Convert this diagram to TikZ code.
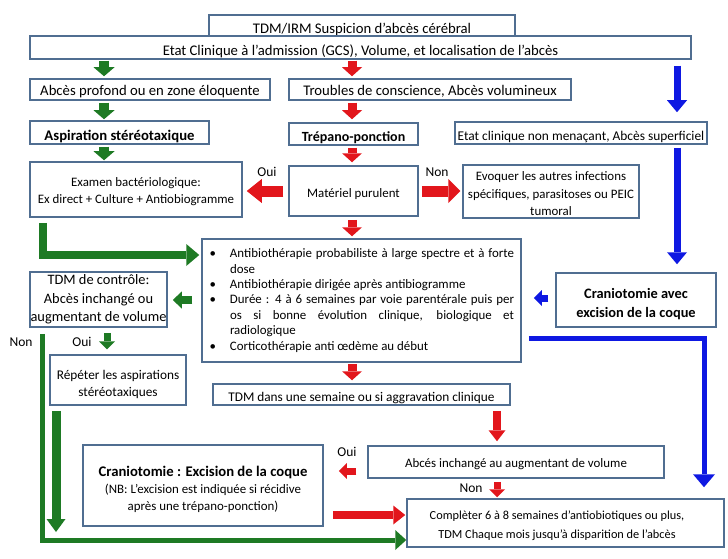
\documentclass[tikz,border=0pt]{standalone}
\usepackage{fontspec}
\setmainfont{Carlito}
\usetikzlibrary{arrows.meta}
\definecolor{bord}{RGB}{80,110,145}
\definecolor{gr}{RGB}{30,122,36}
\definecolor{rd}{RGB}{226,22,28}
\definecolor{bl}{RGB}{14,24,226}
\newcommand\fsA{\fontsize{14.7}{17.5}\selectfont}
\newcommand\fsB{\fontsize{12.9}{17.3}\selectfont}
\newcommand\fsC{\fontsize{13.4}{16}\selectfont}
\newcommand\fsD{\fontsize{14.4}{18.5}\selectfont}
\newcommand\fsE{\fontsize{13.3}{17}\selectfont}
\newcommand\fsF{\fontsize{12.3}{19}\selectfont}
\newcommand\fsG{\fontsize{12.9}{15.4}\selectfont}
\newcommand\bitem{\par\leavevmode\llap{\textbullet\hspace{14pt}}}
\newcommand\strt[1]{\rule{0pt}{#1}}
\begin{document}
\begin{tikzpicture}[x=1pt,y=-1pt,
  box/.style={draw=bord, line width=1.5pt, fill=white, inner sep=0pt, align=center, font=\fsA},
  low/.style={text height=#1, text depth=0pt},
  lbl/.style={font=\fontsize{13.5}{15}\selectfont, inner sep=0pt},
  arr/.style n args={4}{draw=#1, line width=#2, -{Triangle[width=#3,length=#4,line width=0pt]}}
]
\useasboundingbox (0,0) rectangle (728,559);

% boxes
\node[box, low=15.3pt, minimum width=306, minimum height=21] (top) at (362,25.5) {TDM/IRM Suspicion d’abcès cérébral};
\node[box, low=15.3pt, minimum width=661, minimum height=23] (etat) at (360.5,47.5) {Etat Clinique à l’admission (GCS), Volume, et localisation de l’abcès};
\node[box, low=11.3pt, minimum width=240, minimum height=21] (a1) at (150,89.5) {Abcès profond ou en zone éloquente};
\node[box, low=11.3pt, minimum width=282, minimum height=21] (r1) at (430,89.5) {Troubles de conscience, Abcès volumineux};
\node[box, low=15.3pt, minimum width=179, minimum height=23, font=\bfseries\fsA] (a2) at (119.5,132.5) {Aspiration stéréotaxique};
\node[box, low=15.5pt, minimum width=129, minimum height=22, font=\bfseries\fontsize{14}{16}\selectfont] (r2) at (353.5,134) {Trépano-ponction};
\node[box, low=14.7pt, minimum width=252, minimum height=22, font=\fsC] (bl1) at (581,133) {Etat clinique non menaçant, Abcès superficiel};
\node[box, minimum width=212, minimum height=55, font=\fsB] (a3) at (136,189.5) {\strt{13.3pt}Examen bactériologique:\\Ex direct + Culture + Antiobiogramme};
\node[box, low=12.4pt, minimum width=129, minimum height=50, font=\fsB] (r3) at (353.5,191) {Matériel purulent};
\node[box, minimum width=176, minimum height=53, font=\fsB] (ev) at (551,191.5) {\strt{13.3pt}Evoquer les autres infections\\spécifiques, parasitoses ou PEIC\\tumoral};
\node[box, minimum width=319, minimum height=123] (bul) at (361.5,300.5) {\parbox{319pt}{\fsG\leftskip=28pt\rightskip=7pt\parindent=0pt\hbadness=10000\tolerance=10000\hyphenpenalty=10000
\bitem Antibiothérapie probabiliste à large spectre et à forte\linebreak dose
\bitem Antibiothérapie dirigée après antibiogramme
\bitem Durée : 4 à 6 semaines par voie parentérale puis per\linebreak os si bonne évolution clinique, biologique et\linebreak radiologique
\bitem Corticothérapie anti œdème au début\par}};
\node[box, minimum width=137, minimum height=55, font=\fsD] (tc) at (98.5,299.5) {TDM de contrôle:\\Abcès inchangé ou\\augmentant de volume};
\node[box, minimum width=160, minimum height=54, font=\bfseries\fsD] (cr) at (636,300) {\strt{18pt}Craniotomie avec\\excision de la coque};
\node[box, minimum width=136, minimum height=50, font=\fsE] (rp) at (118,380) {\strt{17.5pt}Répéter les aspirations\\stéréotaxiques};
\node[box, low=14.6pt, minimum width=297, minimum height=21, font=\fsE] (tw) at (361.5,394.5) {TDM dans une semaine ou si aggravation clinique};
\node[box, low=10.4pt, minimum width=296, minimum height=32, font=\fsB] (ai) at (516,462) {Abcés inchangé au augmentant de volume};
\node[box, minimum width=240, minimum height=81, font=\fsB] (ce) at (203,485.5) {\strt{18.3pt}{\bfseries\fsA Craniotomie : Excision de la coque}\\(NB: L’excision est indiquée si récidive\\après une trépano-ponction)};
\node[box, minimum width=317, minimum height=48, font=\fsF] (cp) at (565.5,523) {\strt{15pt}Complèter 6 à 8 semaines d’antiobiotiques ou plus,\makebox[17pt]{}\\TDM Chaque mois jusqu’à disparition de l’abcès\makebox[17pt]{}};

% labels
\node[lbl] (oui1) at (267,172) {Oui};
\node[lbl] (non1) at (437,172) {Non};
\node[lbl] (non2) at (21,342) {Non};
\node[lbl] (oui2) at (82,342) {Oui};
\node[lbl] (oui3) at (347,452) {Oui};
\node[lbl] (non3) at (471,488) {Non};

% helper coordinates
\coordinate (gx) at (104,0);
\coordinate (rx) at (352,0);
\coordinate (bx) at (677,0);
\coordinate (gl) at (43,0);
\coordinate (gly) at (0,255);
\coordinate (gx2) at (107,0);
\coordinate (gll) at (42,0);
\coordinate (glly) at (0,540);
\coordinate (gx3) at (56,0);
\coordinate (gjoin) at (56,532);
\coordinate (rx2) at (497,0);
\coordinate (roy) at (0,471);
\coordinate (rby) at (0,515);
\coordinate (bly) at (0,338);
\coordinate (blx) at (704,0);
\coordinate (gsy) at (0,300);
\coordinate (bsy) at (0,298);

% green arrows
\draw[arr={gr}{10pt}{21pt}{9pt}, shorten <=1pt, shorten >=2pt] (etat.south -| gx) -- (a1.north -| gx);
\draw[arr={gr}{10pt}{21pt}{9pt}, shorten <=2pt, shorten >=1pt] (a1.south -| gx) -- (a2.north -| gx);
\draw[arr={gr}{10pt}{21pt}{9pt}, shorten <=2pt, shorten >=1pt] (a2.south -| gx) -- (a3.north -| gx);
\draw[arr={gr}{8pt}{22pt}{13pt}] ([yshift=-5pt]a3.south -| gl) |- ([xshift=-2pt]bul.west |- gly);
\draw[arr={gr}{8pt}{17pt}{9pt}, shorten <=9pt, shorten >=5pt] (bul.west |- gsy) -- (tc.east |- gsy);
\draw[arr={gr}{7pt}{16pt}{8pt}, shorten <=5pt, shorten >=5pt] (tc.south -| gx2) -- (rp.north -| gx2);
\draw[arr={gr}{5pt}{20pt}{11pt}] ([yshift=-6pt]tc.south -| gll) |- (cp.west |- glly);
\draw[arr={gr}{9pt}{19pt}{13pt}, shorten <=5pt] (rp.south -| gx3) -- (gjoin);

% red arrows
\draw[arr={rd}{9pt}{20pt}{9pt}, shorten <=1pt, shorten >=2pt] (etat.south -| rx) -- (r1.north -| rx);
\draw[arr={rd}{9pt}{20pt}{9pt}, shorten <=2pt, shorten >=3pt] (r1.south -| rx) -- (r2.north -| rx);
\draw[arr={rd}{9pt}{20pt}{9pt}, shorten <=2pt, shorten >=3pt] (r2.south -| rx) -- (r3.north -| rx);
\draw[arr={rd}{11pt}{24pt}{15pt}, shorten <=5pt, shorten >=4pt] (r3.west) -- (a3.east |- r3.west);
\draw[arr={rd}{11pt}{24pt}{12pt}, shorten <=3pt, shorten >=2pt] (r3.east) -- (ev.west |- r3.east);
\draw[arr={rd}{9pt}{20pt}{9pt}, shorten <=3pt, shorten >=2pt] (r3.south -| rx) -- (bul.north -| rx);
\draw[arr={rd}{9pt}{20pt}{9pt}, shorten <=1pt, shorten >=3pt] (bul.south -| rx) -- (tw.north -| rx);
\draw[arr={rd}{8pt}{17pt}{11pt}, shorten <=5pt, shorten >=4pt] (tw.south -| rx2) -- (ai.north -| rx2);
\draw[arr={rd}{7pt}{16pt}{8pt}, shorten <=11pt, shorten >=15pt] (ai.west |- roy) -- (ce.east |- roy);
\draw[arr={rd}{7pt}{16pt}{8pt}, shorten <=3pt, shorten >=1pt] (ai.south -| rx2) -- (cp.north -| rx2);
\draw[arr={rd}{8pt}{19pt}{12pt}, shorten <=9pt, shorten >=1pt] (ce.east |- rby) -- (cp.west |- rby);

% blue arrows
\draw[arr={bl}{7pt}{20pt}{12pt}, shorten <=6pt, shorten >=9pt] (etat.south -| bx) -- (bl1.north -| bx);
\draw[arr={bl}{7pt}{20pt}{12pt}, shorten <=3pt, shorten >=8pt] (bl1.south -| bx) -- (cr.north -| bx);
\draw[arr={bl}{7pt}{16pt}{8pt}, shorten <=7pt, shorten >=12pt] (cr.west |- bsy) -- (bul.east |- bsy);
\draw[arr={bl}{5pt}{22pt}{13pt}] ([xshift=7pt]bul.east |- bly) -| ([yshift=11pt]cp.north -| blx);
\end{tikzpicture}
\end{document}
